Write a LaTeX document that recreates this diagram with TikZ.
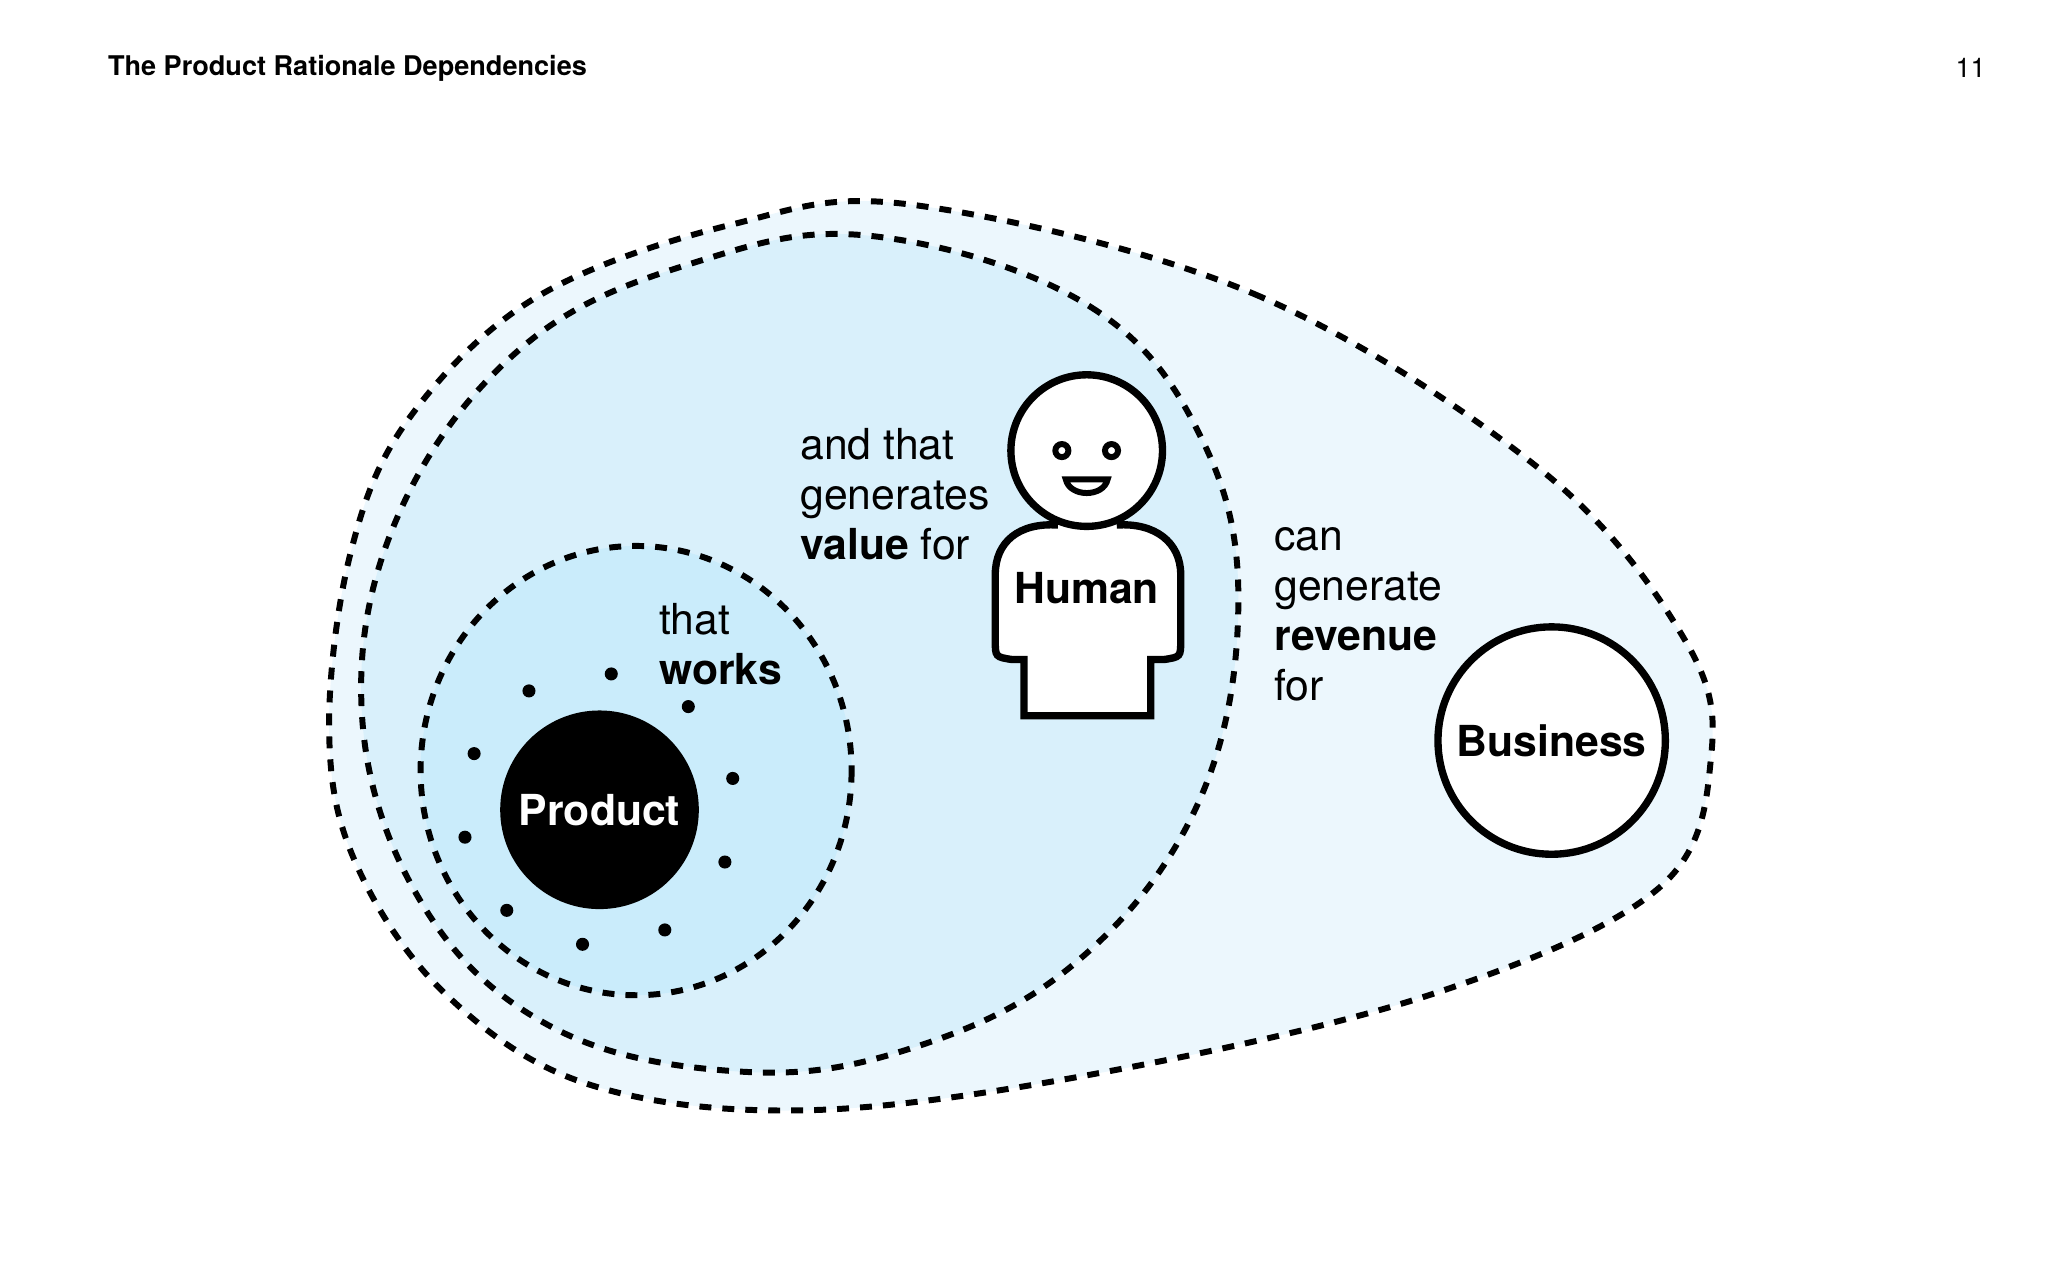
\documentclass[tikz,border=0pt]{standalone}
\usepackage{fontspec}
\setmainfont{TeX Gyre Heros}
\begin{document}
\begin{tikzpicture}[x=0.01cm,y=-0.01cm,
  dotline/.style={line width=1.3pt,dash pattern=on 2.6pt off 2.4pt},
  lbl/.style={font=\fontsize{9.3}{10.9}\selectfont,align=left,anchor=north west,inner sep=0pt},
  dot/.style={circle,fill=black,inner sep=0pt,minimum size=0.1cm}]
\useasboundingbox (0,0) rectangle (1568,980);
\node[anchor=west,inner sep=0pt,font=\bfseries\fontsize{5.9}{7}\selectfont] (title) at (82,52) {The Product Rationale Dependencies};
\node[anchor=east,inner sep=0pt,font=\fontsize{5.9}{7}\selectfont] (page) at (1521,52) {11};
% outer blob
\draw[dotline,fill={rgb,255:red,236;green,247;blue,253}] plot[smooth cycle,tension=0.6] coordinates
 {(700,157) (960,225) (1180,360) (1290,490) (1310,580) (1270,680) (1100,760) (850,820) (620,850) (450,830) (340,760) (272,660) (252,560) (268,425) (312,322) (410,228) (560,172)};
% middle ellipse
\draw[dotline,fill={rgb,255:red,217;green,240;blue,251}] plot[smooth cycle,tension=0.65] coordinates
 {(670,181) (835,235) (922,340) (948,470) (915,620) (820,740) (690,805) (560,820) (420,785) (322,690) (277,545) (306,392) (402,264) (535,200)};
% inner
\draw[dotline,fill={rgb,255:red,202;green,236;blue,251}] (487,590) ellipse (165 and 172);
\node[circle,fill=black,minimum size=1.52cm,inner sep=0pt,text=white,font=\bfseries\fontsize{9.3}{11}\selectfont] (product) at (459,620) {Product};
\foreach \i/\p in {a/{(405,529)},b/{(468,516)},c/{(527,541)},d/{(561,596)},e/{(555,660)},f/{(509,712)},g/{(446,723)},h/{(388,697)},k/{(356,641)},l/{(363,577)}}
  \node[dot] (d\i) at \p {};
\node[circle,draw,line width=1.6pt,fill=white,minimum size=1.74cm,inner sep=0pt,font=\bfseries\fontsize{9.3}{11}\selectfont] (business) at (1188,567) {Business};
% human
\draw[line width=1.6pt,fill=white] (810,402) .. controls (780,400) and (762,415) .. (762,440) -- (762,490) .. controls (762,503) .. (775,505) -- (784,505) -- (784,548) -- (881,548) -- (881,505) -- (891,505) .. controls (904,503) .. (904,490) -- (904,440) .. controls (904,415) and (884,400) .. (855,402);
\node[circle,draw,line width=1.6pt,fill=white,minimum size=1.16cm,inner sep=0pt] (head) at (832,345) {};
\node[circle,draw,line width=1.3pt,minimum size=0.1cm,inner sep=0pt] (eyeL) at (813,345) {};
\node[circle,draw,line width=1.3pt,minimum size=0.1cm,inner sep=0pt] (eyeR) at (851,345) {};
\draw[line width=1.3pt] (816,367) -- (848,367) .. controls (845,381) and (819,381) .. (816,367) -- cycle;
\node[font=\bfseries\fontsize{9.3}{11}\selectfont] (human) at (832,450) {Human};
% labels
\node[lbl] (t1) at (504,461) {that\\\textbf{works}};
\node[lbl] (t2) at (612,327) {and that\\generates\\\textbf{value} for};
\node[lbl] (t3) at (975,403) {can\\generate\\\textbf{revenue}\\for};
\end{tikzpicture}
\end{document}
